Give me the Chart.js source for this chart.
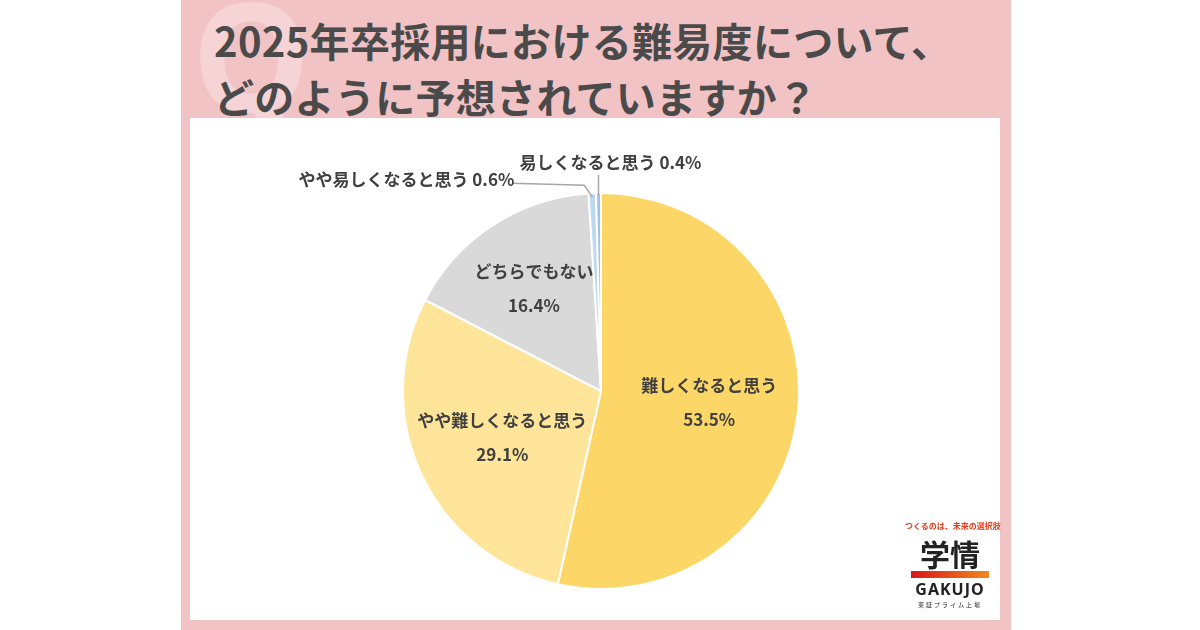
<!DOCTYPE html>
<html><head><meta charset="utf-8">
<script src="https://cdn.jsdelivr.net/npm/chart.js@4"></script>
<style>
body{margin:0;width:1200px;height:630px;background:#fff;position:relative;overflow:hidden;font-family:"Noto Sans CJK JP",sans-serif}
#pink{position:absolute;left:181px;top:0;width:830px;height:630px;background:#f2c3c5}
#q{position:absolute;left:192px;top:-22px;font:bold 150px "Noto Sans";color:#f6d3d4;line-height:1}
#title{position:absolute;left:214px;top:12px;font-weight:bold;font-size:40px;line-height:56px;color:#4a4a4a;letter-spacing:0.3px}
#panel{position:absolute;left:190px;top:118px;width:810px;height:502px;background:#fff}
#wrap{position:absolute;left:196px;top:118px;width:810px;height:502px}
#logo{position:absolute;left:905px;top:520px;width:90px;text-align:center;color:#222}
</style></head><body>
<div id="pink"></div><div id="q">Q</div>
<div id="title">2025年卒採用における難易度について、<br>どのように予想されていますか？</div>
<div id="panel"></div>
<div id="wrap"><canvas id="c"></canvas></div>
<div id="logo">
<div style="font-size:8px;color:#e2401c;font-weight:bold;white-space:nowrap">つくるのは、未来の選択肢</div>
<div style="font-size:30px;font-weight:bold;line-height:36px;margin-top:4px">学情</div>
<div style="height:7px;margin:0 6px;background:linear-gradient(90deg,#d9141c,#f08a1c)"></div>
<div style="font:bold 16px 'Noto Sans';letter-spacing:1px">GAKUJO</div>
<div style="font-size:6px;letter-spacing:2px">東証プライム上場</div>
</div>
<script>
const categories = ['難しくなると思う', 'やや難しくなると思う', 'どちらでもない', 'やや易しくなると思う', '易しくなると思う'];
const values = [53.5, 29.1, 16.4, 0.6, 0.4];
const colors = ['#fdd668', '#fee59a', '#d9d9d9', '#bdd7ee', '#9dc3e6'];

const labelPlugin = {
  id: 'labels',
  afterDatasetsDraw(chart) {
    const ctx = chart.ctx;
    const arcs = chart.getDatasetMeta(0).data;
    ctx.save();
    ctx.fillStyle = '#404040';
    ctx.font = 'bold 17px "Noto Sans CJK JP"';
    ctx.textAlign = 'center';
    ctx.textBaseline = 'middle';
    arcs.forEach((a, i) => {
      const mid = (a.startAngle + a.endAngle) / 2;
      const txt = values[i].toFixed(1) + '%';
      if (i < 3) {
        const r = a.outerRadius * (i === 2 ? 0.62 : 0.55);
        const x = a.x + Math.cos(mid) * r, y = a.y + Math.sin(mid) * r;
        ctx.fillText(categories[i], x, y - 17);
        ctx.fillText(txt, x, y + 17);
      } else {
        const ex = a.x + Math.cos(mid) * a.outerRadius, ey = a.y + Math.sin(mid) * a.outerRadius;
        ctx.strokeStyle = '#a6a6a6';
        ctx.lineWidth = 1.5;
        ctx.beginPath();
        if (i === 3) {
          ctx.moveTo(ex, ey + 4);
          ctx.lineTo(ex - 8, ey - 8);
          ctx.lineTo(ex - 80, ey - 10);
          ctx.stroke();
          ctx.textAlign = 'right';
          ctx.fillText(categories[i] + ' ' + txt, ex - 78, ey - 14);
        } else {
          ctx.moveTo(ex, ey + 2);
          ctx.lineTo(ex, ey - 18);
          ctx.stroke();
          ctx.textAlign = 'center';
          ctx.fillText(categories[i] + ' ' + txt, ex + 12, ey - 30);
        }
      }
    });
    ctx.restore();
  }
};

new Chart(document.getElementById('c'), {
  type: 'pie',
  data: { labels: categories, datasets: [{ data: values, backgroundColor: colors, borderColor: '#fff', borderWidth: 2 }] },
  options: {
    responsive: true, maintainAspectRatio: false, animation: false,
    layout: { padding: { top: 74, bottom: 30 } },
    plugins: { legend: { display: false }, tooltip: { enabled: false } }
  },
  plugins: [labelPlugin]
});
</script>
</body></html>
